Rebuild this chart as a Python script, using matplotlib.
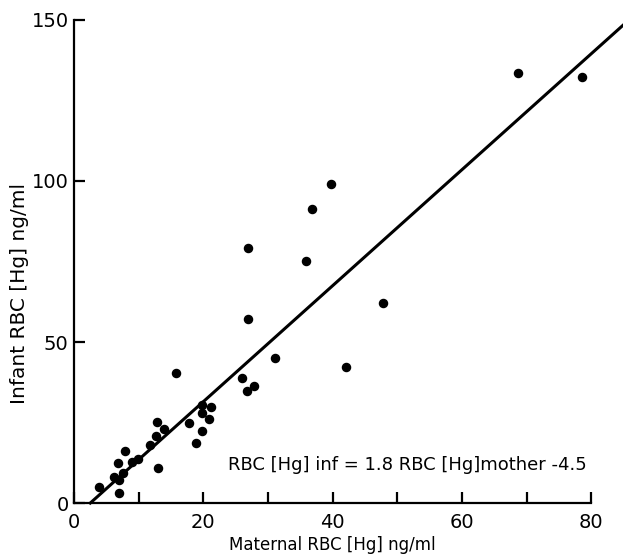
import numpy as np
import matplotlib
matplotlib.use("Agg")
import matplotlib.pyplot as plt
from matplotlib.ticker import MultipleLocator

# maternal vs infant RBC mercury
maternal = [3.9, 6.1, 7.0, 7.0, 7.6, 6.8, 7.9, 9.0, 9.9, 11.8, 12.7, 12.8,
            13.9, 13.0, 15.8, 17.8, 18.9, 19.8, 19.8, 19.8, 21.1, 20.9,
            25.9, 26.8, 27.9, 26.9, 26.9, 31.0, 35.9, 36.8, 39.8, 42.0,
            47.8, 68.7, 78.6]
infant = [5.0, 8.1, 7.1, 3.1, 9.3, 12.4, 16.1, 12.7, 13.7, 18.0, 20.8, 25.2,
          23.0, 10.9, 40.4, 24.8, 18.6, 22.4, 28.0, 30.4, 29.8, 26.1,
          38.8, 34.8, 36.3, 57.1, 79.2, 45.0, 75.2, 91.3, 99.1, 42.2,
          62.1, 133.5, 132.3]

slope, intercept = 1.8, -4.5
fit_x = [2.5, 85.0]

plt.rcParams["font.family"] = ["DejaVu Sans"]

fig = plt.figure(figsize=(6.23, 5.54), dpi=100)
ax = fig.add_axes([0.119, 0.092, 0.83, 0.872])

ax.scatter(maternal, infant, s=34, color="black", zorder=3, clip_on=False)
fx = np.array(fit_x)
ax.plot(fx, slope * fx + intercept, color="black", lw=2.2, clip_on=False)

ax.set_xlim(0, 80)
ax.set_ylim(0, 150)
ax.xaxis.set_major_locator(MultipleLocator(20))
ax.xaxis.set_minor_locator(MultipleLocator(10))
ax.yaxis.set_major_locator(MultipleLocator(50))

for side in ("top", "right"):
    ax.spines[side].set_visible(False)
for side in ("left", "bottom"):
    ax.spines[side].set_linewidth(1.6)

ax.tick_params(which="both", direction="in", width=1.6, length=8,
               labelsize=14)
ax.tick_params(axis="x", pad=7)
ax.tick_params(axis="y", pad=4)

ax.set_xlabel("Maternal RBC [Hg] ng/ml", fontsize=12, labelpad=3)
ax.set_ylabel("Infant RBC [Hg] ng/ml", fontsize=14.5)
ax.yaxis.set_label_coords(-0.088, 0.433)

ax.text(23.8, 11.8, "RBC [Hg] inf = 1.8 RBC [Hg]mother -4.5",
        fontsize=13, va="center", ha="left")

fig.savefig("out.png", dpi=100)
